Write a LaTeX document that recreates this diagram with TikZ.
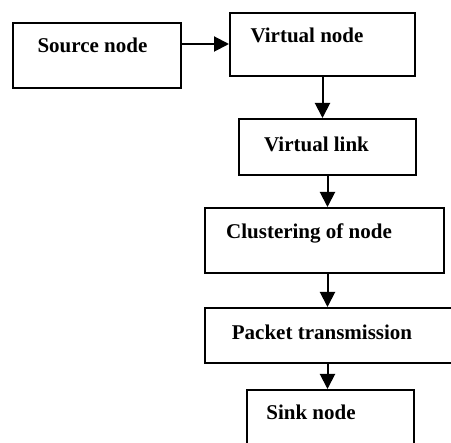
\documentclass[tikz,border=0pt]{standalone}
\usepackage{fontspec}
\setmainfont{Liberation Serif}
\usetikzlibrary{arrows.meta}
\tikzset{
  box/.style={draw, line width=2pt, rectangle, inner sep=0pt, anchor=north west},
  lbl/.style={anchor=base, inner sep=0pt, font=\fontsize{21}{25}\selectfont\bfseries},
  arr/.style={line width=2pt, -{Triangle[length=15pt,width=15pt]}}
}
\begin{document}
\begin{tikzpicture}[x=1pt,y=-1pt]
\useasboundingbox (0,0) rectangle (451,443);
\clip (0,0) rectangle (451,443);
\node[box, minimum width=168pt, minimum height=65pt] (src) at (12,22) {};
\node[box, minimum width=185pt, minimum height=63pt] (vn) at (229,12) {};
\node[box, minimum width=177pt, minimum height=56pt] (vl) at (238,118) {};
\node[box, minimum width=239pt, minimum height=65pt] (cl) at (204,207) {};
\node[box, minimum width=249pt, minimum height=55pt] (pk) at (204,307) {};
\node[box, minimum width=167pt, minimum height=60pt] (sk) at (246,389) {};
\node[lbl] (tsrc) at (92.5,52.5) {Source node};
\node[lbl] (tvn) at (307,42.7) {Virtual node};
\node[lbl] (tvl) at (316.5,151.7) {Virtual link};
\node[lbl] (tcl) at (309,238.7) {Clustering of node};
\node[lbl] (tpk) at (322,339.3) {Packet transmission};
\node[lbl] (tsk) at (311,420) {Sink node};
\draw[arr] ([yshift=11.5pt]src.east) -- ([yshift=11.5pt]src.east -| vn.west);
\draw[arr] (vn.south) -- (vn.south |- vl.north);
\draw[arr] (vl.south) -- (vl.south |- cl.north);
\draw[arr] (cl.south -| vl.south) -- (vl.south |- pk.north);
\draw[arr] (pk.south -| vl.south) -- (vl.south |- sk.north);
\end{tikzpicture}
\end{document}
